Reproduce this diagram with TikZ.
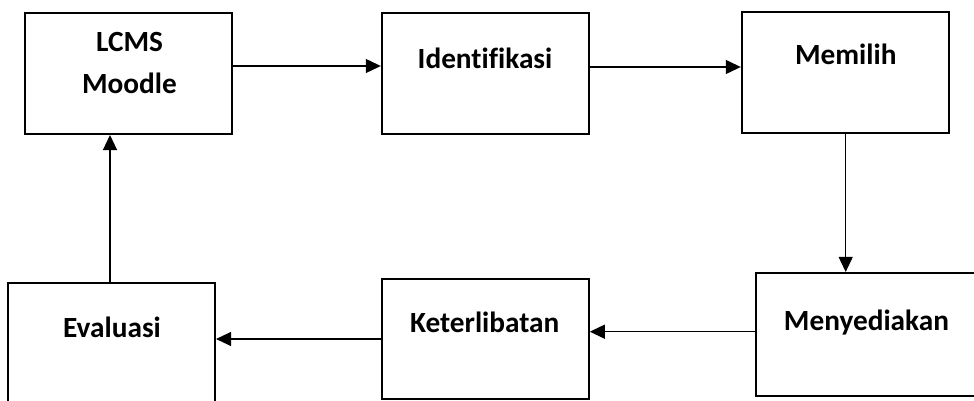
\documentclass[tikz,border=0pt]{standalone}
\usepackage{fontspec}
\setmainfont{Carlito}[Ligatures=NoCommon]
\usetikzlibrary{arrows.meta}
\begin{document}
\begin{tikzpicture}[x=1pt,y=-1pt,
  box/.style={draw=black,line width=2pt,minimum width=207pt,minimum height=121pt,inner sep=0pt},
  lbl/.style={anchor=base,inner sep=0pt,font=\fontsize{29.3}{34}\selectfont\bfseries},
  arr/.style={draw=black,line width=1.1pt,-{Triangle[length=15pt,width=14pt]}}]
\useasboundingbox (0,0) rectangle (974,401);
\clip (0,0) rectangle (974,401);
% boxes
\node[box] (B1) at (128.5,73.5) {};
\node[box] (B2) at (485.3,73.5) {};
\node[box] (B3) at (845.3,72.5) {};
\node[box,minimum width=220pt,minimum height=122.7pt] (B4) at (865.8,334.3) {};
\node[box,minimum height=120pt] (B5) at (485.3,339) {};
\node[box,minimum width=206.7pt] (B6) at (111.7,343.8) {};
% texts
\node[lbl] (T1a) at (129.5,52) {LCMS};
\node[lbl] (T1b) at (129.5,94) {Moodle};
\node[lbl] (T2) at (485,68.3) {Identifikasi};
\node[lbl] (T3) at (845.8,65) {Memilih};
\node[lbl] (T4) at (866.5,330) {Menyediakan};
\node[lbl] (T5) at (484.7,332.7) {Keterlibatan};
\node[lbl] (T6) at (112,337.3) {Evaluasi};
% connectors
\draw[arr] ([yshift=7.5pt]B1.east) -- ([yshift=7.5pt]B1.east -| B2.west);
\draw[arr] ([yshift=6.5pt]B2.east) -- ([yshift=6.5pt]B2.east -| B3.west);
\draw[arr] ([xshift=0.4pt]B3.south) -- ([xshift=0.4pt]B3.south |- B4.north);
\draw[arr] ([yshift=2.6pt]B4.west) -- ([yshift=2.6pt]B4.west -| B5.east);
\draw[arr] (B5.west) -- (B5.west -| B6.east);
\draw[arr] ([xshift=-1.7pt]B6.north) -- ([xshift=-1.7pt]B6.north |- B1.south);
\end{tikzpicture}
\end{document}
